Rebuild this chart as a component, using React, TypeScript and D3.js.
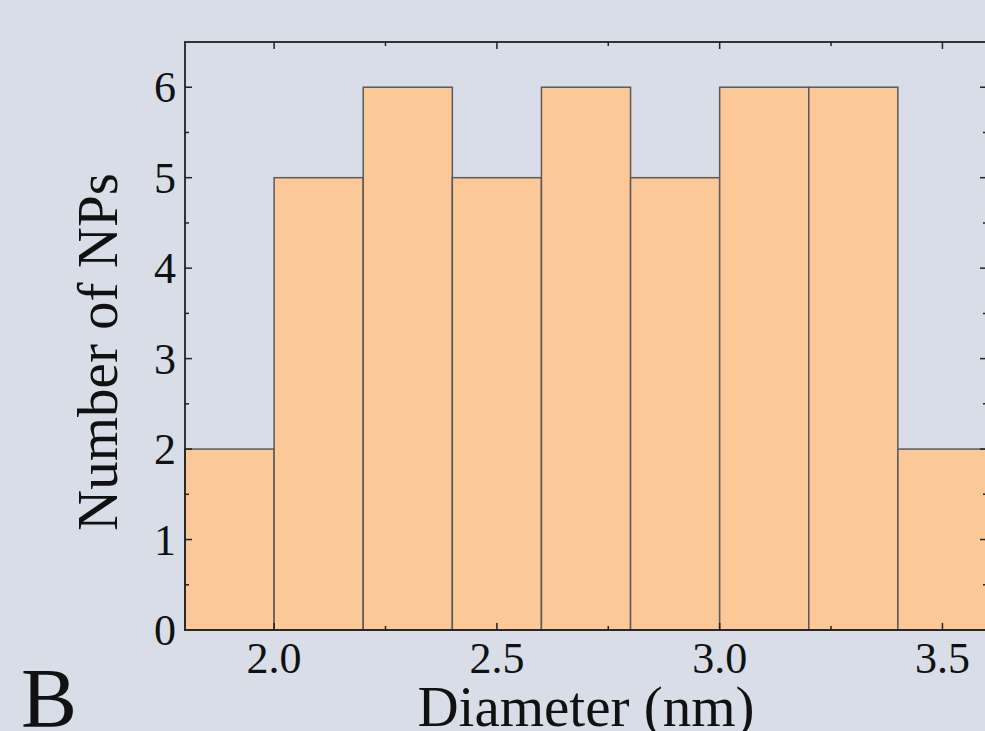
import React, { useRef, useEffect } from 'react';
import * as d3 from 'd3';

// histogram bins (nm) and counts
const binStarts = [1.8, 2.0, 2.2, 2.4, 2.6, 2.8, 3.0, 3.2, 3.4];
const binWidth = 0.2;
const counts = [2, 5, 6, 5, 6, 5, 6, 6, 2];
const xTickLabels = ['2.0', '2.5', '3.0', '3.5'];
const yTickValues = [0, 1, 2, 3, 4, 5, 6];

const W = 985;
const H = 731;

const App = () => {
  const svgRef = useRef<SVGSVGElement>(null);

  useEffect(() => {
    const svg = d3.select(svgRef.current);
    svg.selectAll('*').remove();

    const margin = { top: 42, right: -2, bottom: 101, left: 185 };
    const x = d3.scaleLinear().domain([1.8, 3.6]).range([margin.left, W - margin.right]);
    const y = d3.scaleLinear().domain([0, 6.5]).range([H - margin.bottom, margin.top]);
    const font = '"Liberation Serif", "Times New Roman", serif';

    svg.append('rect').attr('width', W).attr('height', H).attr('fill', '#d8dde7');

    // bars
    svg.append('g')
      .selectAll('rect')
      .data(binStarts)
      .join('rect')
      .attr('x', d => x(d))
      .attr('y', (d, i) => y(counts[i]))
      .attr('width', d => x(d + binWidth) - x(d))
      .attr('height', (d, i) => y(0) - y(counts[i]))
      .attr('fill', '#fcc897')
      .attr('stroke', '#5a5a5a')
      .attr('stroke-width', 1.5);

    const x0 = x.range()[0], x1 = x.range()[1];
    const y0 = y.range()[0], y1 = y.range()[1];

    // ticks (inward)
    const tk = svg.append('g').attr('stroke', '#222').attr('stroke-width', 1.5);
    const xMinor = d3.range(1.75, 3.61, 0.25).filter(v => v > 1.8 && v < 3.6);
    xMinor.forEach(v => {
      const major = Math.abs((v * 2) - Math.round(v * 2)) < 1e-6;
      const len = major ? 7 : 4;
      tk.append('line').attr('x1', x(v)).attr('x2', x(v)).attr('y1', y0).attr('y2', y0 - len);
      tk.append('line').attr('x1', x(v)).attr('x2', x(v)).attr('y1', y1).attr('y2', y1 + len);
    });
    d3.range(0.5, 6.5, 0.5).forEach(v => {
      const major = Number.isInteger(v);
      const len = major ? 7 : 4;
      tk.append('line').attr('x1', x0).attr('x2', x0 + len).attr('y1', y(v)).attr('y2', y(v));
      tk.append('line').attr('x1', x1).attr('x2', x1 - len).attr('y1', y(v)).attr('y2', y(v));
    });

    // frame
    svg.append('rect')
      .attr('x', x0).attr('y', y1)
      .attr('width', x1 - x0).attr('height', y0 - y1)
      .attr('fill', 'none').attr('stroke', '#222').attr('stroke-width', 1.8);

    // tick labels
    svg.append('g')
      .selectAll('text')
      .data(xTickLabels)
      .join('text')
      .attr('x', d => x(+d))
      .attr('y', 673)
      .attr('text-anchor', 'middle')
      .style('font-family', font)
      .style('font-size', '44px')
      .attr('fill', '#111')
      .text(d => d);

    svg.append('g')
      .selectAll('text')
      .data(yTickValues)
      .join('text')
      .attr('x', 176)
      .attr('y', d => y(d) + 15)
      .attr('text-anchor', 'end')
      .style('font-family', font)
      .style('font-size', '44px')
      .attr('fill', '#111')
      .text(d => d);

    // axis titles
    svg.append('text')
      .attr('transform', `translate(117,352) rotate(-90)`)
      .attr('text-anchor', 'middle')
      .style('font-family', font)
      .style('font-size', '57px')
      .attr('fill', '#111')
      .text('Number of NPs');

    svg.append('text')
      .attr('x', (x0 + x1) / 2)
      .attr('y', 726)
      .attr('text-anchor', 'middle')
      .style('font-family', font)
      .style('font-size', '57px')
      .attr('fill', '#111')
      .text('Diameter (nm)');

    svg.append('text')
      .attr('x', 21)
      .attr('y', 727)
      .style('font-family', font)
      .style('font-size', '84px')
      .attr('fill', '#111')
      .text('B');
  }, []);

  return (
    <svg ref={svgRef} width={W} height={H}
      style={{ position: 'fixed', left: 0, top: 0, display: 'block' }} />
  );
};

export default App;
